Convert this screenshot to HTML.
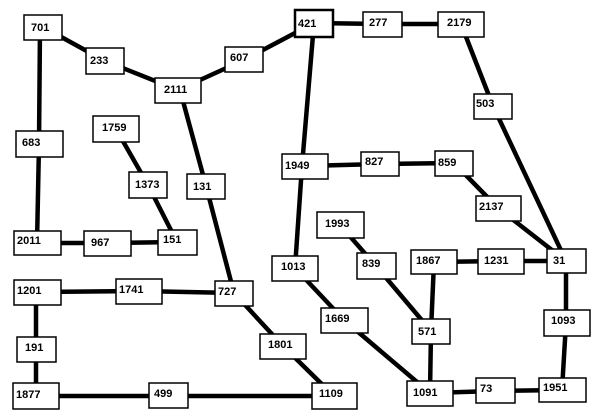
<!DOCTYPE html>
<html><head><style>html,body{margin:0;padding:0;background:#fff}</style></head><body>
<svg width="600" height="420" xmlns="http://www.w3.org/2000/svg" style="display:block">
<g stroke="#000" stroke-width="4.5" fill="none">
<line x1="43" y1="27" x2="105" y2="61"/>
<line x1="40" y1="27" x2="39" y2="144"/>
<line x1="39" y1="144" x2="37" y2="243"/>
<line x1="105" y1="61" x2="178" y2="90"/>
<line x1="178" y1="90" x2="244" y2="60"/>
<line x1="244" y1="60" x2="314" y2="23"/>
<line x1="314" y1="23" x2="382" y2="24"/>
<line x1="382" y1="24" x2="461" y2="24"/>
<line x1="461" y1="24" x2="493" y2="106"/>
<line x1="493" y1="106" x2="566" y2="261"/>
<line x1="314" y1="23" x2="302" y2="166"/>
<line x1="302" y1="166" x2="295" y2="268"/>
<line x1="305" y1="166" x2="380" y2="164"/>
<line x1="380" y1="164" x2="454" y2="163"/>
<line x1="454" y1="163" x2="498" y2="208"/>
<line x1="498" y1="208" x2="566" y2="261"/>
<line x1="116" y1="129" x2="148" y2="185"/>
<line x1="148" y1="185" x2="177" y2="242"/>
<line x1="37" y1="243" x2="107" y2="243"/>
<line x1="107" y1="243" x2="177" y2="242"/>
<line x1="180" y1="90" x2="206" y2="186"/>
<line x1="206" y1="186" x2="234" y2="293"/>
<line x1="37" y1="292" x2="139" y2="291"/>
<line x1="139" y1="291" x2="234" y2="293"/>
<line x1="234" y1="293" x2="283" y2="346"/>
<line x1="283" y1="346" x2="334" y2="396"/>
<line x1="36" y1="292" x2="36" y2="349"/>
<line x1="36" y1="349" x2="36" y2="396"/>
<line x1="36" y1="396" x2="168" y2="396"/>
<line x1="168" y1="396" x2="334" y2="396"/>
<line x1="295" y1="268" x2="344" y2="320"/>
<line x1="344" y1="320" x2="430" y2="393"/>
<line x1="340" y1="225" x2="376" y2="266"/>
<line x1="376" y1="266" x2="431" y2="331"/>
<line x1="434" y1="262" x2="431" y2="331"/>
<line x1="431" y1="331" x2="430" y2="393"/>
<line x1="434" y1="262" x2="501" y2="261"/>
<line x1="501" y1="261" x2="566" y2="261"/>
<line x1="566" y1="261" x2="566" y2="323"/>
<line x1="566" y1="323" x2="562" y2="390"/>
<line x1="430" y1="393" x2="495" y2="391"/>
<line x1="495" y1="391" x2="562" y2="390"/>
</g>
<g fill="#fff" stroke="#000" stroke-width="1.5">
<rect x="24" y="15" width="38" height="25"/>
<rect x="86" y="48" width="38" height="26"/>
<rect x="155" y="78" width="46" height="25"/>
<rect x="225" y="47" width="38" height="25"/>
<rect x="295" y="10" width="38" height="27" stroke-width="2.5"/>
<rect x="16" y="131" width="47" height="26"/>
<rect x="93" y="116" width="46" height="26"/>
<rect x="129" y="172" width="38" height="26"/>
<rect x="187" y="174" width="38" height="25"/>
<rect x="282" y="154" width="46" height="25"/>
<rect x="363" y="12" width="39" height="25"/>
<rect x="438" y="12" width="46" height="25"/>
<rect x="474" y="94" width="38" height="25"/>
<rect x="361" y="152" width="38" height="24"/>
<rect x="435" y="151" width="38" height="25"/>
<rect x="476" y="196" width="45" height="25"/>
<rect x="14" y="231" width="47" height="24"/>
<rect x="84" y="231" width="47" height="25"/>
<rect x="158" y="230" width="39" height="25"/>
<rect x="272" y="256" width="46" height="25"/>
<rect x="14" y="280" width="47" height="25"/>
<rect x="116" y="279" width="46" height="25"/>
<rect x="215" y="281" width="38" height="25"/>
<rect x="260" y="334" width="46" height="25"/>
<rect x="17" y="337" width="39" height="25"/>
<rect x="13" y="383" width="46" height="26"/>
<rect x="149" y="383" width="39" height="25"/>
<rect x="312" y="383" width="45" height="26"/>
<rect x="317" y="212" width="47" height="26"/>
<rect x="357" y="253" width="39" height="26"/>
<rect x="321" y="308" width="47" height="25"/>
<rect x="411" y="250" width="46" height="24"/>
<rect x="478" y="249" width="46" height="25"/>
<rect x="547" y="249" width="39" height="24"/>
<rect x="412" y="319" width="38" height="25"/>
<rect x="544" y="310" width="46" height="26"/>
<rect x="407" y="381" width="46" height="25"/>
<rect x="476" y="378" width="39" height="25"/>
<rect x="539" y="378" width="47" height="24"/>
</g>
<g font-family="Liberation Sans, Arial, sans-serif" font-size="11" font-weight="bold" fill="#000">
<text x="31" y="31">701</text>
<text x="90" y="64">233</text>
<text x="164" y="93">2111</text>
<text x="230" y="61">607</text>
<text x="298" y="27">421</text>
<text x="22" y="146">683</text>
<text x="102" y="131">1759</text>
<text x="135" y="188">1373</text>
<text x="193" y="190">131</text>
<text x="285" y="169">1949</text>
<text x="369" y="26">277</text>
<text x="447" y="26">2179</text>
<text x="476" y="107">503</text>
<text x="365" y="165">827</text>
<text x="438" y="166">859</text>
<text x="479" y="210">2137</text>
<text x="17" y="244">2011</text>
<text x="91" y="246">967</text>
<text x="163" y="243">151</text>
<text x="281" y="270">1013</text>
<text x="17" y="294">1201</text>
<text x="119" y="293">1741</text>
<text x="218" y="295">727</text>
<text x="268" y="348">1801</text>
<text x="25" y="351">191</text>
<text x="16" y="398">1877</text>
<text x="154" y="397">499</text>
<text x="319" y="397">1109</text>
<text x="325" y="227">1993</text>
<text x="362" y="267">839</text>
<text x="325" y="322">1669</text>
<text x="416" y="264">1867</text>
<text x="484" y="264">1231</text>
<text x="553" y="264">31</text>
<text x="418" y="335">571</text>
<text x="551" y="324">1093</text>
<text x="413" y="396">1091</text>
<text x="480" y="392">73</text>
<text x="543" y="391">1951</text>
</g>
</svg>
</body></html>
